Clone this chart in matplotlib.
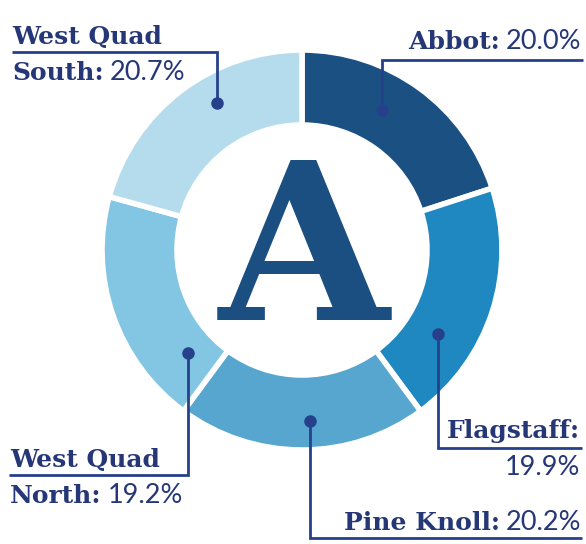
import matplotlib
matplotlib.use("Agg")
import matplotlib.pyplot as plt

# Share of residents by hall
halls = ["Abbot", "Flagstaff", "Pine Knoll", "West Quad North", "West Quad South"]
shares = [20.0, 19.9, 20.2, 19.2, 20.7]
colors = ["#1b5083", "#1f88c0", "#56a6cf", "#83c6e3", "#b5dcec"]

NAVY = "#263777"
LINE = "#27408b"
W, H = 586, 544
BOLD = "DejaVu Serif"
SANS = "Lato"

fig = plt.figure(figsize=(W / 100, H / 100), dpi=100)
ax = fig.add_axes([0, 0, 1, 1])

cx, cy, R = 302, H - 250, 200
ax.pie(shares, colors=colors, radius=R, center=(cx, cy), startangle=90,
       counterclock=False, frame=True,
       wedgeprops=dict(width=75, edgecolor="white", linewidth=4))

ax.set_xlim(0, W)
ax.set_ylim(0, H)
ax.set_aspect("equal")
ax.axis("off")

# big letter in the hole
ax.text(cx + 2, H - 320, "A", family=BOLD, weight="bold", fontsize=158,
        color="#1b4f82", ha="center", va="baseline")

renderer = fig.canvas.get_renderer()


def px(y):
    return H - y


def width_of(t):
    bb = t.get_window_extent(renderer=renderer)
    return bb.width


def label_line(x, y, bold, pct, align="left", size=18, psize=19.5):
    # bold part plus lighter percentage on one baseline
    if align == "left":
        t = ax.text(x, px(y), bold, family=BOLD, weight="bold", fontsize=size,
                    color=NAVY, ha="left", va="baseline")
        if pct:
            ax.text(x + width_of(t) + 6, px(y), pct, family=SANS,
                    fontsize=psize, color=NAVY, ha="left", va="baseline")
    else:
        x_end = x
        if pct:
            t = ax.text(x, px(y), pct, family=SANS, fontsize=psize,
                        color=NAVY, ha="right", va="baseline")
            x_end = x - width_of(t) - 6
        ax.text(x_end, px(y), bold, family=BOLD, weight="bold", fontsize=size,
                color=NAVY, ha="right", va="baseline")


def leader(dot, corner_y, end_x):
    dx, dy = dot
    ax.plot([dx, dx, end_x], [px(dy), px(corner_y), px(corner_y)],
            color=LINE, lw=2, solid_capstyle="butt", solid_joinstyle="miter")
    ax.plot(dx, px(dy), "o", color=LINE, ms=8)


# West Quad South
leader((217, 103), 52, 12)
label_line(12, 44, "West Quad", None)
label_line(12, 80, "South:", "20.7%")

# Abbot
leader((382, 110), 60, 583)
label_line(581, 49, "Abbot:", "20.0%", align="right")

# Flagstaff
leader((438, 334), 448, 582)
label_line(580, 438, "Flagstaff:", None, align="right")
label_line(580, 475, "", "19.9%", align="right")

# Pine Knoll
leader((310, 421), 538, 582)
label_line(581, 530, "Pine Knoll:", "20.2%", align="right")

# West Quad North
leader((188, 353), 475, 9)
label_line(10, 467, "West Quad", None)
label_line(10, 503, "North:", "19.2%")

fig.savefig("out.png", dpi=100)
